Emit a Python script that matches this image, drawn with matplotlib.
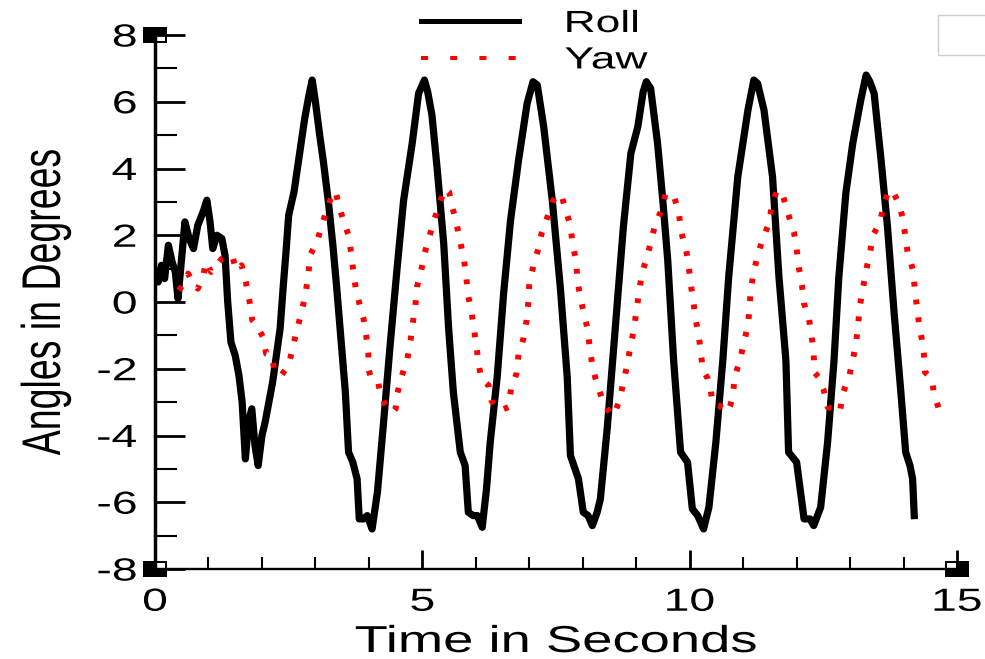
import matplotlib
matplotlib.use("Agg")
import matplotlib.pyplot as plt
from matplotlib import patheffects
from matplotlib.transforms import Affine2D
from matplotlib.path import Path
from matplotlib.lines import Line2D
from matplotlib.patches import Rectangle

plt.rcParams['font.family'] = ['Liberation Sans', 'DejaVu Sans']
plt.rcParams['axes.unicode_minus'] = False

# roll angle (deg) against time (s)
roll_t = [0.00, 0.06, 0.12, 0.18, 0.25, 0.32, 0.38, 0.43, 0.48, 0.56, 0.64, 0.72,
          0.80, 0.90, 0.97, 1.03, 1.08, 1.16, 1.25, 1.31, 1.36, 1.42, 1.50, 1.57,
          1.63, 1.69, 1.75, 1.81, 1.87, 1.93, 2.00, 2.06, 2.13, 2.20, 2.27, 2.34,
          2.40, 2.45, 2.50, 2.60, 2.70, 2.80, 2.88, 2.94, 3.00, 3.08, 3.15, 3.25,
          3.33, 3.40, 3.46, 3.56, 3.62, 3.70, 3.78, 3.82, 3.90, 3.97, 4.06, 4.16,
          4.27, 4.40, 4.53, 4.65, 4.81, 4.93, 5.04, 5.10, 5.18, 5.28, 5.40, 5.49,
          5.58, 5.71, 5.80, 5.86, 5.95, 6.03, 6.12, 6.20, 6.27, 6.40, 6.52, 6.65,
          6.80, 6.96, 7.07, 7.15, 7.27, 7.43, 7.58, 7.71, 7.77, 7.92, 8.01, 8.10,
          8.18, 8.27, 8.33, 8.46, 8.61, 8.76, 8.90, 9.03, 9.13, 9.19, 9.27, 9.40,
          9.50, 9.59, 9.70, 9.83, 9.96, 10.05, 10.15, 10.26, 10.36, 10.49, 10.62,
          10.73, 10.90, 11.09, 11.20, 11.27, 11.39, 11.55, 11.67, 11.80, 11.85,
          12.00, 12.14, 12.25, 12.32, 12.45, 12.58, 12.70, 12.79, 12.92, 13.05,
          13.20, 13.30, 13.37, 13.45, 13.58, 13.70, 13.82, 13.95, 14.04, 14.12,
          14.17, 14.20]
roll_deg = [0.8, 0.6, 1.1, 0.7, 1.7, 1.2, 0.9, 0.1, 1.0, 2.4, 1.9, 1.6,
            2.3, 2.7, 3.05, 2.4, 1.6, 2.0, 1.9, 1.4, 0.0, -1.2, -1.6, -2.2,
            -3.0, -4.7, -3.6, -3.2, -4.3, -4.9, -4.0, -3.6, -3.0, -2.4, -1.6, -0.8,
            0.5, 1.5, 2.6, 3.3, 4.4, 5.5, 6.2, 6.65, 6.0, 5.0, 4.2, 2.9,
            1.65, 0.4, -0.75, -2.7, -4.5, -4.8, -5.3, -6.5, -6.5, -6.4, -6.8, -5.7,
            -3.7, -1.25, 1.05, 3.05, 4.75, 6.25, 6.65, 6.3, 5.6, 3.95, 1.75, -0.75,
            -2.7, -4.5, -4.9, -6.3, -6.4, -6.4, -6.75, -5.6, -4.2, -2.25, 0.25, 2.45,
            4.25, 5.95, 6.6, 6.5, 5.25, 3.05, 0.45, -2.25, -4.6, -5.3, -6.3, -6.4,
            -6.7, -6.3, -5.9, -3.75, -0.75, 2.25, 4.45, 5.25, 6.3, 6.6, 6.4, 4.75,
            3.0, 1.25, -1.75, -4.5, -4.8, -6.2, -6.4, -6.8, -6.15, -4.2, -1.75,
            0.75, 3.75, 5.75, 6.65, 6.55, 5.75, 3.75, 0.75, -1.75, -4.5,
            -4.8, -6.5, -6.5, -6.7, -6.15, -4.2, -1.75, 0.75, 3.25, 4.75,
            6.05, 6.8, 6.6, 6.25, 4.25, 2.25, -0.25, -2.7, -4.5, -4.9,
            -5.3, -6.4]

# yaw angle (deg) against time (s)
yaw_t = [0.45, 0.55, 0.62, 0.72, 0.80, 0.90, 0.95, 1.05, 1.15, 1.25, 1.38, 1.45,
         1.52, 1.62, 1.70, 1.77, 1.82, 1.92, 2.02, 2.08, 2.18, 2.24, 2.36, 2.50,
         2.57, 2.66, 2.75, 2.82, 2.87, 2.90, 3.03, 3.12, 3.22, 3.33, 3.38, 3.43,
         3.52, 3.62, 3.67, 3.71, 3.76, 3.84, 3.90, 3.95, 3.99, 4.00, 4.05, 4.18,
         4.22, 4.33, 4.45, 4.50, 4.53, 4.62, 4.72, 4.78, 4.82, 4.87, 4.90, 4.98,
         5.04, 5.13, 5.22, 5.32, 5.43, 5.50, 5.56, 5.64, 5.71, 5.77, 5.82, 5.85,
         5.92, 5.96, 6.01, 6.05, 6.10, 6.24, 6.29, 6.37, 6.46, 6.61, 6.66, 6.76,
         6.80, 6.89, 6.95, 6.98, 7.00, 7.08, 7.17, 7.23, 7.34, 7.45, 7.55, 7.62,
         7.68, 7.77, 7.81, 7.88, 7.90, 7.96, 8.03, 8.09, 8.13, 8.18, 8.24, 8.30,
         8.39, 8.50, 8.58, 8.65, 8.69, 8.76, 8.83, 8.89, 8.96, 9.00, 9.05, 9.10,
         9.19, 9.27, 9.35, 9.47, 9.55, 9.65, 9.72, 9.80, 9.84, 9.93, 9.98, 10.02,
         10.07, 10.11, 10.17, 10.21, 10.25, 10.34, 10.39, 10.43, 10.55, 10.70,
         10.76, 10.81, 10.84, 10.94, 11.01, 11.09, 11.12, 11.14, 11.20, 11.27,
         11.37, 11.48, 11.54, 11.62, 11.70, 11.76, 11.85, 11.95, 12.00, 12.04,
         12.10, 12.14, 12.23, 12.28, 12.32, 12.33, 12.41, 12.50, 12.58, 12.70,
         12.81, 12.86, 12.98, 13.05, 13.11, 13.15, 13.18, 13.24, 13.30, 13.37,
         13.43, 13.56, 13.63, 13.72, 13.80, 13.90, 13.99, 14.03, 14.08, 14.18,
         14.21, 14.25, 14.29, 14.34, 14.38, 14.40, 14.53, 14.57, 14.66, 14.76]
yaw_deg = [0.35, 0.6, 0.85, 0.55, 0.4, 0.75, 1.2, 0.9, 1.1, 1.3, 1.4, 1.35,
           0.95, 1.1, 0.6, 0.0, -0.55, -0.75, -1.05, -1.55, -1.6, -2.1, -2.2, -1.9,
           -1.4, -0.8, -0.25, 0.3, 0.85, 1.4, 1.8, 2.3, 2.8, 3.3, 3.3, 2.95,
           2.45, 2.0, 1.45, 0.9, 0.35, -0.15, -0.5, -1.0, -1.55, -2.05, -2.35, -2.45,
           -2.8, -3.15, -3.3, -3.2, -2.75, -2.2, -1.7, -1.15, -0.65, -0.1, 0.45, 0.95,
           1.45, 1.95, 2.45, 2.95, 3.4, 3.3, 2.85, 2.35, 1.8, 1.35, 0.8, 0.25,
           -0.3, -0.75, -1.3, -1.8, -2.3, -2.5, -2.95, -3.15, -3.25, -3.15, -2.6, -2.15,
           -1.55, -1.1, -0.55, -0.05, 0.55, 1.1, 1.6, 2.05, 2.55, 3.05, 3.25, 3.1,
           2.75, 2.3, 1.75, 1.2, 0.65, 0.1, -0.4, -0.8, -1.35, -1.9, -2.3, -2.6,
           -3.05, -3.3, -3.4, -3.1, -2.95, -2.4, -1.9, -1.35, -0.8, -0.3, 0.25, 0.8,
           1.3, 1.75, 2.3, 2.75, 3.25, 3.25, 3.1, 2.65, 2.1, 1.6, 1.1, 0.55,
           0.0, -0.5, -1.0, -1.55, -2.05, -2.3, -2.6, -3.05, -3.1, -3.3,
           -3.1, -2.8, -2.25, -1.75, -1.25, -0.7, -0.2, 0.35, 0.9, 1.4,
           1.9, 2.35, 2.9, 3.3, 3.35, 3.1, 2.6, 2.1, 1.6, 1.05,
           0.5, -0.05, -0.5, -1.0, -1.55, -2.1, -2.25, -2.6, -3.15, -3.2,
           -3.3, -2.75, -2.25, -1.75, -1.25, -0.7, -0.15, 0.4, 0.95, 1.45,
           2.0, 2.4, 2.9, 3.35, 3.3, 3.0, 2.5, 2.0, 1.45, 0.95,
           0.4, -0.15, -0.65, -1.1, -1.55, -2.1, -2.3, -2.75, -3.2, -3.0]

series_names = ['Roll', 'Yaw']
x_ticks = [0, 5, 10, 15]
x_minor = list(range(0, 16))
y_ticks = [-8, -6, -4, -2, 0, 2, 4, 6, 8]
y_minor = [-7, -5, -3, -1, 1, 3, 5, 7]
x_label = 'Time in Seconds'
y_label = 'Angles in Degrees'

WIDE = 1.45  # sideways stretch of the lettering


class Widen(patheffects.AbstractPathEffect):
    """Draw glyph outlines stretched horizontally about an edge or the middle."""

    def __init__(self, sx=WIDE, anchor='center'):
        super().__init__()
        self.sx = sx
        self.anchor = anchor

    def draw_path(self, renderer, gc, tpath, affine, rgbFace=None):
        box = tpath.get_extents(affine)
        if self.anchor == 'right':
            x0 = box.x1
        elif self.anchor == 'left':
            x0 = box.x0
        else:
            x0 = 0.5 * (box.x0 + box.x1)
        stretch = Affine2D().translate(-x0, 0).scale(self.sx, 1).translate(x0, 0)
        renderer.draw_path(gc, tpath, affine + stretch, rgbFace)


def corner_marker(hx, hy):
    # wide black block with a notch cut out on the inner side
    outer = [(-1.5, -1), (1.5, -1), (1.5, 1), (-1.5, 1), (-1.5, -1)]
    xa, xb = sorted((0.15 * hx, 1.3 * hx))
    ya, yb = sorted((0.15 * hy, 0.8 * hy))
    hole = [(xa, ya), (xa, yb), (xb, yb), (xb, ya), (xa, ya)]
    codes = [Path.MOVETO] + [Path.LINETO] * 3 + [Path.CLOSEPOLY]
    return Path(outer + hole, codes + codes)


W, H = 985, 659
fig = plt.figure(figsize=(W / 100, H / 100), dpi=100)
ax = fig.add_axes([155 / W, 1 - 569 / H, (957 - 155) / W, (569 - 35) / H])

ax.plot(roll_t, roll_deg, color='black', lw=5.2, zorder=3)
ax.plot(yaw_t, yaw_deg, color='#ff0000', lw=4.3, linestyle=(0, (0.8, 2.2)),
        dash_capstyle='butt', zorder=4)

xmin, xmax, ymin, ymax = x_ticks[0], x_ticks[-1], y_ticks[0], y_ticks[-1]
ax.set_xlim(xmin, xmax)
ax.set_ylim(ymin, ymax)
ax.set_xticks(x_ticks)
ax.set_xticks(x_minor, minor=True)
ax.set_yticks(y_ticks)
ax.set_yticks(y_minor, minor=True)

for side in ('top', 'right'):
    ax.spines[side].set_visible(False)
ax.spines['left'].set_linewidth(2.5)
ax.spines['bottom'].set_linewidth(1.7)

ax.tick_params(axis='y', which='major', direction='in', length=21.5, width=2,
               pad=13, labelsize=23)
ax.tick_params(axis='y', which='minor', direction='in', length=15.8, width=1.5)
ax.tick_params(axis='x', which='major', direction='in', length=13.7, width=2,
               pad=13.5, labelsize=23)
ax.tick_params(axis='x', which='minor', direction='in', length=8.6, width=1.5)

for lab in ax.get_xticklabels():
    lab.set_path_effects([Widen()])
for lab in ax.get_yticklabels():
    lab.set_path_effects([Widen(anchor='right')])

ax.set_xlabel(x_label, fontsize=27)
ax.xaxis.set_label_coords(0.5, -0.103)
ax.set_ylabel(y_label, fontsize=27)
ax.yaxis.set_label_coords(-0.114, 0.5)
ax.xaxis.label.set_path_effects([Widen()])
ax.yaxis.label.set_path_effects([Widen()])

# corner blocks where the axes meet the frame
for cx, cy, hx, hy in [(xmin, ymax, 1, -1), (xmin, ymin, 1, 1), (xmax, ymin, -1, 1)]:
    ax.plot([cx], [cy], marker=corner_marker(hx, hy), ms=16.6, color='black',
            mew=0, clip_on=False, zorder=6)

handles = [Line2D([], [], color='black', lw=3.6),
           Line2D([], [], color='#ff0000', lw=2.9, linestyle=(0, (1.75, 5.5)),
                  dash_capstyle='butt')]
leg = ax.legend(handles, series_names, loc='upper left',
                bbox_to_anchor=(421 / W, 1 - 9 / H), bbox_transform=fig.transFigure,
                frameon=False, fontsize=22, handlelength=98 / 30.6,
                handletextpad=46 / 30.6, labelspacing=0.21, borderpad=0,
                borderaxespad=0)
for txt in leg.get_texts():
    txt.set_path_effects([Widen(anchor='left')])

fig.patches.append(Rectangle((938 / W, 1 - 55 / H), 60 / W, 40 / H,
                             transform=fig.transFigure, fill=False,
                             edgecolor='#cccccc', lw=1))

fig.savefig('out.png', dpi=100)
